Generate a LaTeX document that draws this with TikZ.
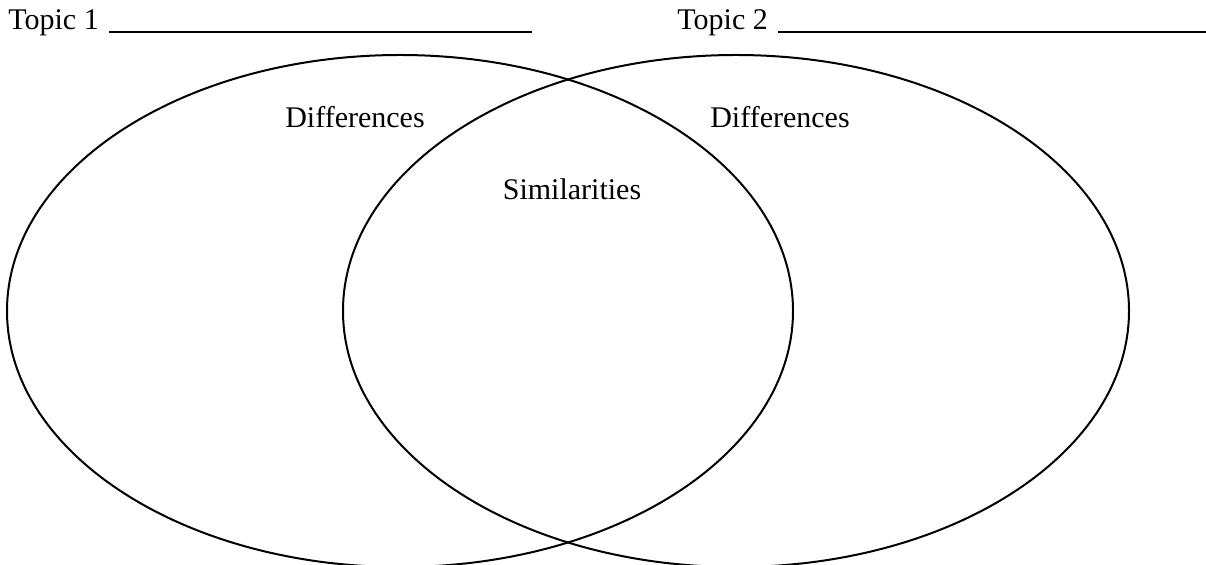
\documentclass[tikz,border=0pt]{standalone}
\usepackage{fontspec}
\setmainfont{Liberation Serif}
\usetikzlibrary{positioning}
\tikzset{
 venn/.style={draw=black,line width=1pt},
 blank/.style={draw=black,line width=1pt},
 label/.style={font=\fontsize{15}{18}\selectfont,inner sep=0pt,anchor=base}
}
\begin{document}
\begin{tikzpicture}[x=0.5pt,y=-0.5pt]
\useasboundingbox (0,0) rectangle (1206,565);
% two sets
\draw[venn] (400,311) ellipse [x radius=393,y radius=256];
\draw[venn] (736,311) ellipse [x radius=393,y radius=256];
% topic headings
\node[label,anchor=base west] (t1) at (8,30) {Topic 1};
\node[label,anchor=base west] (t2) at (677,30) {Topic 2};
\coordinate (t1end) at (532,32);
\coordinate (t2end) at (1206,32);
\draw[blank] (t1.base east) ++(10,2) -- (t1end);
\draw[blank] (t2.base east) ++(10,2) -- (t2end);
% region labels
\node[label] (d1) at (355,128) {Differences};
\node[label] (d2) at (780,128) {Differences};
\node[label] (s) at (572,200) {Similarities};
\end{tikzpicture}
\end{document}
